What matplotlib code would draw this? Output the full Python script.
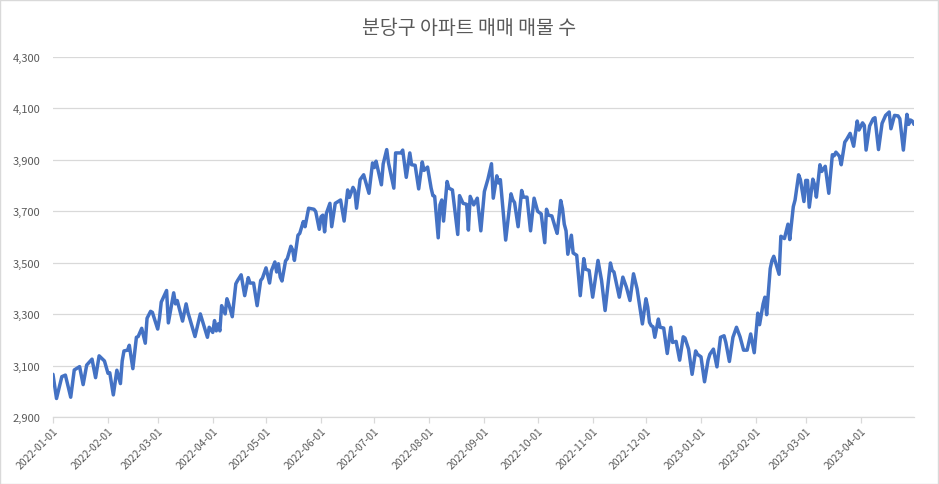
import numpy as np
import pandas as pd
import matplotlib
matplotlib.use("Agg")
import matplotlib.pyplot as plt
import matplotlib.dates as mdates
from matplotlib.ticker import FuncFormatter
from matplotlib.patches import Rectangle

plt.rcParams['font.family'] = ['Noto Sans CJK KR', 'DejaVu Sans']

title = '분당구 아파트 매매 매물 수'
start = '2022-01-01'
y_ticks = [2900, 3100, 3300, 3500, 3700, 3900, 4100, 4300]

# days since 2022-01-01 and listing counts (turning points)
day_offset = [0, 2, 5, 7, 10, 12, 15, 17, 19, 22, 24, 26, 29, 31, 32, 34, 36, 38, 39, 40,
              42, 43, 45, 47, 48, 50, 52, 53, 55, 56, 59, 60, 61, 64, 65, 68, 69, 70, 73, 75,
              76, 77, 80, 83, 87, 88, 90, 91, 92, 93, 94, 95, 97, 98, 99, 101, 103, 104, 106, 108,
              110, 111, 113, 115, 117, 118, 120, 122, 123, 125, 126, 127, 128, 129, 131, 132, 134, 135, 136, 138,
              139, 141, 142, 144, 147, 148, 150, 151, 152, 153, 154, 156, 157, 159, 162, 164, 166, 167, 169, 170,
              171, 173, 175, 178, 180, 181, 182, 185, 186, 188, 189, 192, 193, 196, 197, 199, 201, 202, 204, 206,
              208, 209, 211, 213, 214, 215, 217, 218, 219, 220, 222, 223, 225, 228, 229, 231, 233, 234, 235, 237,
              239, 241, 243, 245, 247, 248, 250, 251, 252, 255, 258, 259, 260, 262, 264, 265, 267, 269, 271, 273,
              275, 277, 278, 279, 281, 283, 284, 286, 287, 288, 289, 290, 292, 293, 295, 297, 299, 300, 302, 304,
              307, 309, 311, 314, 315, 316, 319, 321, 323, 325, 327, 329, 332, 334, 335, 336, 337, 338, 339, 341,
              342, 344, 346, 348, 349, 351, 353, 355, 356, 358, 360, 362, 363, 365, 367, 369, 370, 372, 374, 376,
              378, 379, 381, 383, 385, 387, 389, 391, 393, 395, 397, 398, 400, 401, 402, 404, 405, 406, 409, 410,
              412, 414, 415, 417, 418, 420, 421, 423, 424, 425, 426, 428, 429, 430, 432, 433, 435, 437, 439, 440,
              441, 443, 444, 446, 447, 449, 451, 453, 454, 456, 457, 458, 460, 462, 463, 465, 467, 469, 471, 472,
              474, 476, 477, 479, 481, 482, 483, 484, 485]
listings = [3066, 2972, 3057, 3063, 2977, 3083, 3096, 3026, 3102, 3125, 3053, 3138, 3118, 3070, 3072, 2986, 3082, 3030, 3118, 3157,
            3160, 3179, 3088, 3210, 3213, 3245, 3187, 3284, 3311, 3307, 3242, 3284, 3347, 3392, 3266, 3383, 3340, 3353, 3273, 3340,
            3307, 3284, 3213, 3301, 3210, 3249, 3229, 3275, 3235, 3262, 3235, 3333, 3301, 3360, 3340, 3290, 3418, 3431, 3453, 3372,
            3442, 3421, 3421, 3333, 3431, 3440, 3480, 3421, 3468, 3503, 3464, 3496, 3444, 3429, 3507, 3516, 3564, 3550, 3509, 3607,
            3614, 3660, 3640, 3712, 3708, 3699, 3630, 3679, 3685, 3620, 3692, 3731, 3640, 3731, 3744, 3662, 3783, 3754, 3793, 3780,
            3712, 3823, 3842, 3770, 3888, 3870, 3895, 3803, 3884, 3940, 3888, 3790, 3927, 3927, 3938, 3832, 3927, 3881, 3879, 3787,
            3892, 3859, 3872, 3790, 3761, 3758, 3597, 3725, 3744, 3662, 3816, 3790, 3783, 3610, 3761, 3731, 3727, 3627, 3758, 3725,
            3751, 3624, 3777, 3825, 3885, 3751, 3838, 3810, 3823, 3588, 3768, 3745, 3734, 3640, 3781, 3755, 3755, 3624, 3751, 3700,
            3690, 3578, 3708, 3685, 3682, 3635, 3614, 3742, 3710, 3650, 3624, 3533, 3607, 3538, 3529, 3372, 3516, 3475, 3470, 3366,
            3509, 3431, 3314, 3499, 3470, 3464, 3366, 3444, 3405, 3353, 3457, 3399, 3262, 3360, 3327, 3268, 3255, 3251, 3210, 3281,
            3249, 3246, 3147, 3249, 3190, 3194, 3121, 3212, 3207, 3164, 3066, 3157, 3144, 3134, 3037, 3121, 3144, 3164, 3095, 3210,
            3216, 3190, 3116, 3210, 3249, 3212, 3160, 3160, 3223, 3150, 3304, 3259, 3340, 3366, 3298, 3477, 3509, 3525, 3455, 3603,
            3594, 3650, 3590, 3718, 3744, 3842, 3823, 3738, 3820, 3820, 3716, 3825, 3803, 3755, 3881, 3855, 3875, 3770, 3920, 3916,
            3930, 3914, 3881, 3969, 3979, 4003, 3953, 4051, 4016, 4044, 4034, 3938, 4032, 4060, 4064, 3940, 4042, 4073, 4086, 4021,
            4073, 4071, 4060, 3938, 4077, 4038, 4055, 4051, 4038]

dates = pd.Timestamp(start) + pd.to_timedelta(day_offset, unit='D')
month_ticks = pd.date_range('2022-01-01', '2023-04-01', freq='MS')

fig = plt.figure(figsize=(9.39, 4.85), dpi=100)
ax = fig.add_axes([0.0564, 0.1381, 0.917, 0.7423])

ax.plot(dates, listings, color='#4472C4', lw=2.5, solid_joinstyle='round', solid_capstyle='round')

ax.set_xlim(dates[0], dates[-1])
ax.set_ylim(y_ticks[0], y_ticks[-1])
ax.set_yticks(y_ticks)
ax.yaxis.set_major_formatter(FuncFormatter(lambda v, p: f'{int(v):,}'))
ax.set_xticks(month_ticks)
ax.xaxis.set_major_formatter(mdates.DateFormatter('%Y-%m-%d'))

ax.grid(axis='y', color='#d9d9d9', lw=0.9)
ax.set_axisbelow(True)
for s in ['top', 'right', 'left']:
    ax.spines[s].set_visible(False)
ax.spines['bottom'].set_color('#d9d9d9')
ax.spines['bottom'].set_linewidth(0.9)

ax.tick_params(axis='y', length=0, pad=9, labelsize=8, labelcolor='#595959')
ax.tick_params(axis='x', length=4, color='#d9d9d9', width=0.9, pad=2,
               labelsize=7.5, labelcolor='#595959')
for lab in ax.get_xticklabels():
    lab.set_rotation(45)
    lab.set_ha('right')
    lab.set_rotation_mode('anchor')

fig.text(0.5, 0.942, title, ha='center', va='center', fontsize=14, color='#595959')
fig.patches.append(Rectangle((0.0005, 0.001), 0.998, 0.997, transform=fig.transFigure,
                             fill=False, edgecolor='#d9d9d9', lw=1))

fig.savefig('out.png', dpi=100)
